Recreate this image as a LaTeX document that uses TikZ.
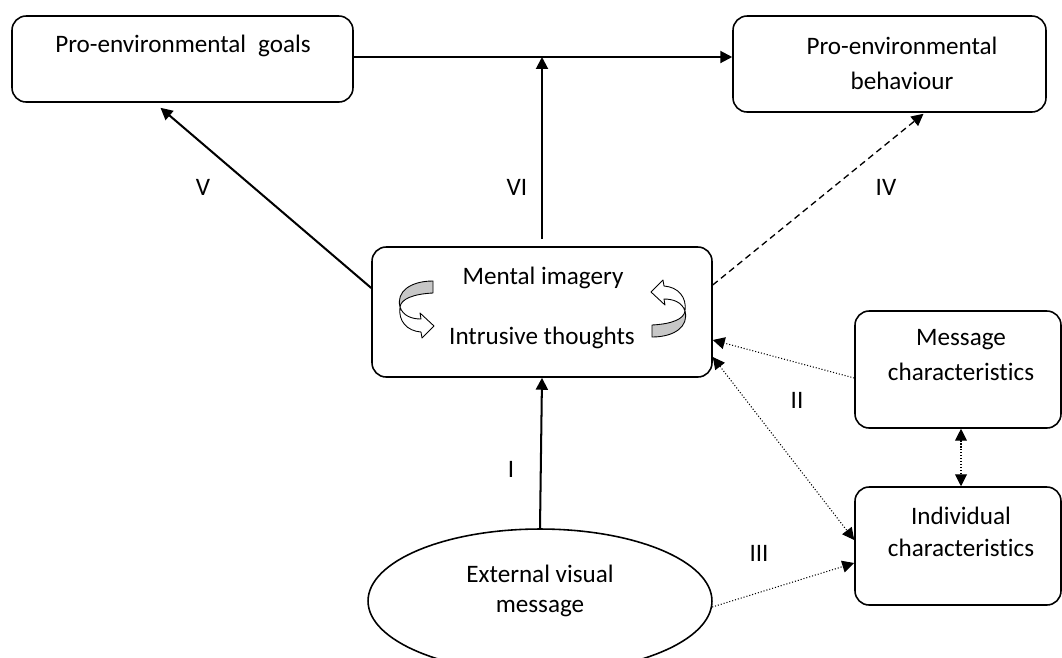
\documentclass[tikz,border=0pt]{standalone}
\usepackage{fontspec}
\setmainfont[Ligatures=NoCommon]{Carlito}
\usetikzlibrary{arrows.meta,shapes.geometric}
\newcommand\twistarrowdraw{%
  \filldraw[fill=black!22,draw=black,line width=0.5pt,line join=round]
    (433,281) -- (433,293) .. controls (413,294) and (401,299) .. (400,307)
    .. controls (396,292) and (410,281) .. (433,281) -- cycle;
  \filldraw[fill=white,draw=black,line width=0.5pt,line join=round]
    (400,307) .. controls (403,316) and (412,319) .. (421,319) -- (420,313)
    -- (434,326) -- (422,338) -- (421,332)
    .. controls (407,331) and (398,321) .. (400,307) -- cycle;
}
\begin{document}
\begin{tikzpicture}[x=0.02cm,y=-0.02cm,
  every node/.style={font=\fontsize{14.3}{17}\selectfont},
  box/.style={draw,line width=0.9pt,rounded corners=8pt,inner sep=0pt},
  txt/.style={inner sep=0pt},
  solidarrow/.style={line width=1.15pt,-{Triangle[length=6.8pt,width=6.8pt]}},
  dashedarrow/.style={line width=0.75pt,dash pattern=on 3.6pt off 2.4pt,-{Triangle[length=6.8pt,width=6.8pt]}},
  dottedarrow/.style={line width=0.6pt,dash pattern=on 0.6pt off 1.1pt,-{Triangle[length=6.8pt,width=6.8pt]}},
  dottedboth/.style={line width=0.6pt,dash pattern=on 0.6pt off 1.1pt,{Triangle[length=6.8pt,width=6.8pt]}-{Triangle[length=6.8pt,width=6.8pt]}}
]
\useasboundingbox (0,0) rectangle (1062,657);
\clip (0,0) rectangle (1062,657);
\fill[white] (0,0) rectangle (1062,657);

% boxes
\node[box,minimum width=6.82cm,minimum height=1.72cm] (goals) at (182.5,59) {};
\node[box,minimum width=6.26cm,minimum height=1.92cm] (behav) at (889.5,64) {};
\node[box,minimum width=6.8cm,minimum height=2.6cm] (mental) at (542,312) {};
\node[box,minimum width=4.12cm,minimum height=2.34cm] (message) at (958,369.5) {};
\node[box,minimum width=4.12cm,minimum height=2.36cm] (indiv) at (958,546) {};
\node[draw,line width=0.9pt,ellipse,minimum width=6.88cm,minimum height=2.88cm,inner sep=0pt] (ext) at (540,601) {};

% texts
\node[txt] (tgoals) at (183,46) {Pro-environmental\hspace{0.25em} goals};
\node[txt] (tbeh1) at (902,46) {Pro-environmental};
\node[txt] (tbeh2) at (902,81) {behaviour};
\node[txt] (tmen1) at (543,278) {Mental imagery};
\node[txt] (tmen2) at (542,338) {Intrusive thoughts};
\node[txt] (tmsg1) at (961,340) {Message};
\node[txt] (tmsg2) at (961,372) {characteristics};
\node[txt] (tind1) at (961,516) {Individual};
\node[txt] (tind2) at (961,548) {characteristics};
\node[txt] (text1) at (540,574) {External visual};
\node[txt] (text2) at (540,609) {message};

% curved arrows
\twistarrowdraw
\begin{scope}[rotate around={180:(542.5,309)}]
\twistarrowdraw
\end{scope}

% connectors
\draw[solidarrow] (goals.east |- 0,57) coordinate (hl) -- (behav.west |- hl);
\draw[solidarrow,shorten <=0.14cm] (mental.north) -- (mental.north |- hl);
\draw[solidarrow] (mental.172) -- ([xshift=-0.44cm,yshift=-0.1cm]goals.south);
\draw[dashedarrow] (mental.9) -- ([xshift=0.68cm,yshift=-0.02cm]behav.south);
\draw[solidarrow] (ext.north) -- (mental.south);
\draw[dottedarrow] ([yshift=-0.17cm]message.west) -- ([yshift=-0.56cm]mental.east);
\draw[dottedboth] ([yshift=-0.9cm]mental.east) -- ([yshift=0.12cm]indiv.west);
\draw[dottedarrow] (ext.-2) -- ([yshift=-0.34cm]indiv.west);
\draw[dottedboth] ([xshift=0.06cm]message.south) -- ([xshift=0.06cm]indiv.north);

% labels
\node[txt] (lV) at (203,187) {V};
\node[txt] (lVI) at (517,187) {VI};
\node[txt] (lIV) at (886,187) {IV};
\node[txt] (lII) at (797,400) {II};
\node[txt] (lI) at (511,469) {I};
\node[txt] (lIII) at (759,553) {III};
\end{tikzpicture}
\end{document}
